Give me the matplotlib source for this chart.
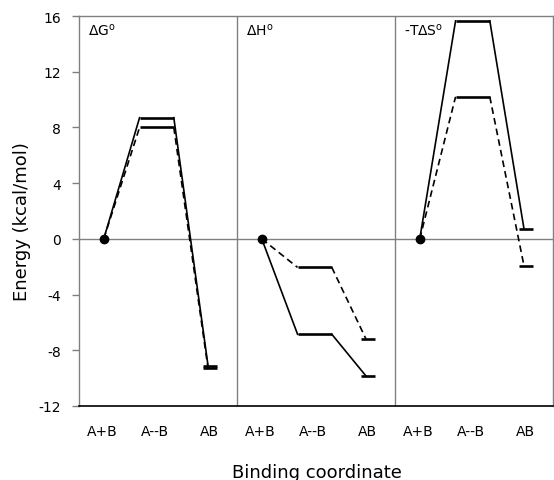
import numpy as np
import matplotlib
matplotlib.use('Agg')
import matplotlib.pyplot as plt

# states along the binding coordinate and panel titles
states = ['A+B', 'A--B', 'AB']
panels = [r'$\Delta$G$^\mathrm{o}$', r'$\Delta$H$^\mathrm{o}$', r'-T$\Delta$S$^\mathrm{o}$']

# energies (kcal/mol) for each panel: [A+B, A--B, AB]
solid_vals = [[0, 8.7, -9.1], [0, -6.85, -9.85], [0, 15.65, 0.7]]
dashed_vals = [[0, 8.0, -9.3], [0, -2.05, -7.2], [0, 10.2, -1.95]]

yticks = [-12, -8, -4, 0, 4, 8, 12, 16]

GRAY = '#808080'

fig = plt.figure(figsize=(5.54, 4.81), dpi=100)
ax = fig.add_axes([79 / 554, 1 - 407 / 481, 474 / 554, 390 / 481])

# x layout inside one panel (panel is 3 units wide)
x_start = 0.47
plat = (1.15, 1.8)
x_end = 2.45
bar = (2.35, 2.62)
label_x = [0.45, 1.45, 2.47]


def draw_path(ax, off, vals, ls):
    dash = (4, 2.5) if ls == '--' else (None, None)
    ax.plot([off + x_start, off + plat[0]], [vals[0], vals[1]],
            color='black', lw=1.2, ls=ls, dashes=dash)
    ax.plot([off + plat[0], off + plat[1]], [vals[1], vals[1]],
            color='black', lw=1.9, solid_capstyle='butt')
    ax.plot([off + plat[1], off + x_end], [vals[1], vals[2]],
            color='black', lw=1.2, ls=ls, dashes=dash)
    ax.plot([off + bar[0], off + bar[1]], [vals[2], vals[2]],
            color='black', lw=1.9, solid_capstyle='butt')


ax.axhline(0, color=GRAY, lw=1.0, zorder=1)
for i in range(1, 3):
    ax.axvline(3 * i, color=GRAY, lw=1.0, zorder=1)

xt = []
xl = []
for i, name in enumerate(panels):
    off = 3 * i
    draw_path(ax, off, dashed_vals[i], '--')
    draw_path(ax, off, solid_vals[i], '-')
    ax.plot(off + x_start, 0, 'o', color='black', markersize=6, zorder=5)
    ax.text(off + 0.18, 15.0, name, fontsize=10, va='center', ha='left')
    xt += [off + x for x in label_x]
    xl += states

ax.set_xlim(0, 9)
ax.set_ylim(-12, 16)
ax.set_yticks(yticks)
ax.set_yticklabels([str(v) for v in yticks], fontsize=10)
ax.set_xticks(xt)
ax.set_xticklabels(xl, fontsize=10)
ax.tick_params(axis='x', length=0, pad=13)
ax.tick_params(axis='y', length=5, width=1, color=GRAY, direction='out', pad=8)

for side in ['left', 'top', 'right']:
    ax.spines[side].set_color(GRAY)
    ax.spines[side].set_linewidth(1.0)
ax.spines['bottom'].set_color('black')
ax.spines['bottom'].set_linewidth(1.2)

fig.text(22 / 554, 1 - 222 / 481, 'Energy (kcal/mol)', rotation=90,
         fontsize=13, ha='center', va='center')
fig.text(317 / 554, 1 - 473 / 481, 'Binding coordinate', fontsize=13,
         ha='center', va='center')

fig.savefig('out.png', dpi=100)
